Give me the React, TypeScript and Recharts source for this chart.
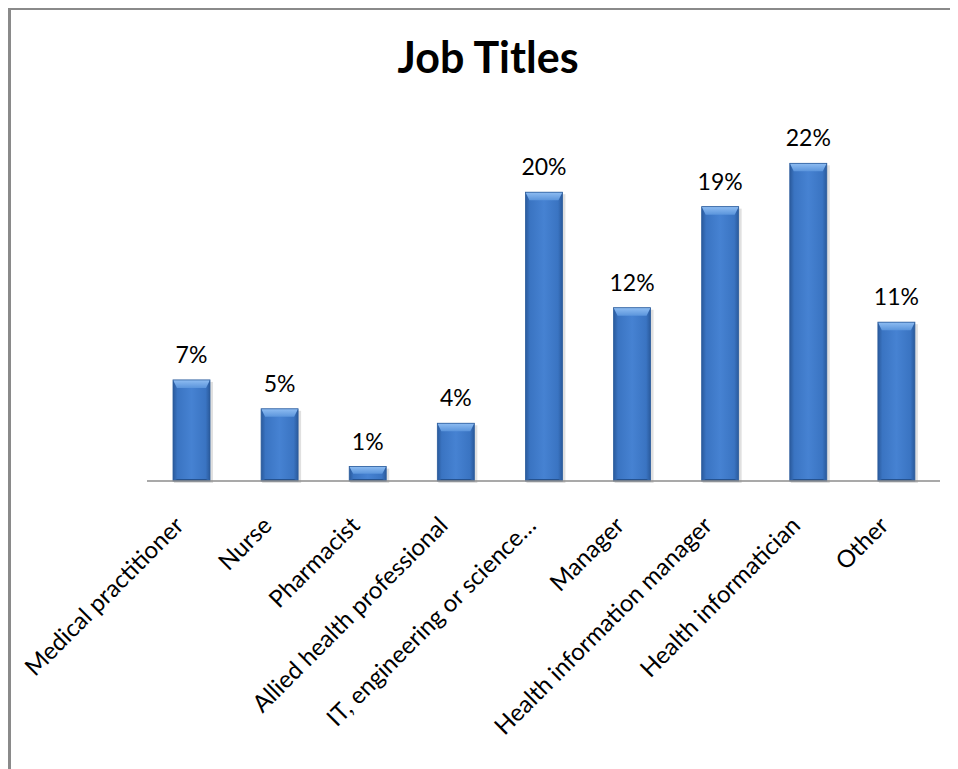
import React from 'react';
import { BarChart, Bar, XAxis, YAxis, LabelList } from 'recharts';

const categories = [
  'Medical practitioner',
  'Nurse',
  'Pharmacist',
  'Allied health professional',
  'IT, engineering or science…',
  'Manager',
  'Health information manager',
  'Health informatician',
  'Other',
];
const shares = [7, 5, 1, 4, 20, 12, 19, 22, 11];
const yDomain = [0, 25];

const data = categories.map((name, i) => ({ name, value: shares[i] }));

const FONT = "Lato, 'Open Sans', sans-serif";

// beveled blue bar, roughly like the old Excel 2007 style
const BevelBar = (props: any) => {
  const { x, y, width, height } = props;
  if (!height || height <= 0) return null;
  const b = Math.min(8, height / 2);
  const s = Math.min(4, width / 4);
  return (
    <g>
      <rect x={x + 1} y={y + 2} width={width + 2} height={height} fill="rgba(0,0,0,0.12)" />
      <rect x={x} y={y} width={width} height={height} fill="url(#barBody)" />
      <polygon
        points={`${x},${y} ${x + width},${y} ${x + width - s},${y + b} ${x + s},${y + b}`}
        fill="url(#barTop)"
      />
      <polygon
        points={`${x + s},${y + height - 2} ${x + width - s},${y + height - 2} ${x + width},${y + height} ${x},${y + height}`}
        fill="#25528f"
      />
      <rect x={x} y={y} width={width} height={height} fill="none" stroke="#2b5c9c" strokeWidth={0.8} />
    </g>
  );
};

const AxisTick = (props: any) => {
  const { x, y, payload } = props;
  const ax = x - 6;
  const ay = y + 46;
  return (
    <text
      x={ax}
      y={ay}
      transform={`rotate(-45, ${ax}, ${ay})`}
      textAnchor="end"
      fontFamily={FONT}
      fontSize={24}
      fill="#000"
    >
      {payload.value}
    </text>
  );
};

const ValueLabel = (props: any) => {
  const { x, y, width, value } = props;
  return (
    <text x={x + width / 2} y={y - 17} textAnchor="middle" fontFamily={FONT} fontSize={23} fill="#000">
      {value}%
    </text>
  );
};

export default function App() {
  return (
    <div
      style={{
        position: 'relative',
        width: 950,
        height: 761,
        boxSizing: 'border-box',
        borderLeft: '3px solid #8a8a8a',
        borderTop: '2px solid #8a8a8a',
        background: '#fff',
      }}
    >
      <style>{`body{overflow:hidden}`}</style>
      <div
        style={{
          position: 'absolute',
          left: 477,
          top: 25,
          transform: 'translateX(-50%)',
          fontFamily: FONT,
          fontWeight: 700,
          fontSize: 43,
          lineHeight: '43px',
          whiteSpace: 'nowrap',
          color: '#000',
        }}
      >
        Job Titles
      </div>
      <BarChart
        width={947}
        height={759}
        data={data}
        margin={{ top: 110, right: 18, bottom: 0, left: 136 }}
        barSize={37}
      >
        <defs>
          <linearGradient id="barBody" x1="0" y1="0" x2="1" y2="0">
            <stop offset="0%" stopColor="#2a5a9c" />
            <stop offset="12%" stopColor="#3a74c2" />
            <stop offset="50%" stopColor="#4682d2" />
            <stop offset="88%" stopColor="#3a74c2" />
            <stop offset="100%" stopColor="#2a5a9c" />
          </linearGradient>
          <linearGradient id="barTop" x1="0" y1="0" x2="0" y2="1">
            <stop offset="0%" stopColor="#8fbdf2" />
            <stop offset="100%" stopColor="#5b95dc" />
          </linearGradient>
        </defs>
        <XAxis
          dataKey="name"
          interval={0}
          height={288}
          tickSize={0}
          tickMargin={0}
          tickLine={false}
          axisLine={{ stroke: '#8c8c8c', strokeWidth: 1.5 }}
          tick={<AxisTick />}
        />
        <YAxis hide domain={yDomain} />
        <Bar dataKey="value" shape={<BevelBar />} isAnimationActive={false}>
          <LabelList dataKey="value" content={<ValueLabel />} />
        </Bar>
      </BarChart>
    </div>
  );
}
